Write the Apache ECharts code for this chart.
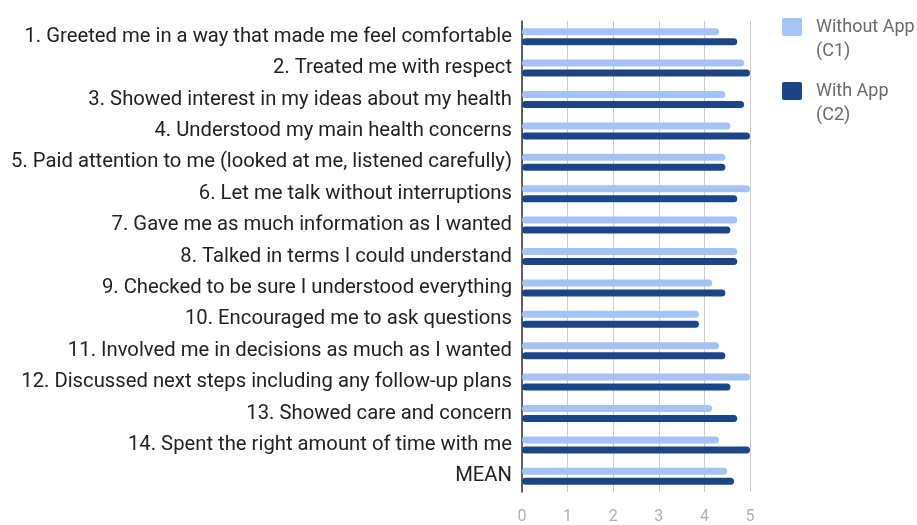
<!DOCTYPE html>
<html><head><meta charset="utf-8">
<script src="https://cdn.jsdelivr.net/npm/echarts@6/dist/echarts.min.js"></script>
<style>html,body{margin:0;padding:0;background:#fff}#c{width:917px;height:525px}</style>
</head><body><div id="c"></div>
<script>
const categories = [
  "1. Greeted me in a way that made me feel comfortable",
  "2. Treated me with respect",
  "3. Showed interest in my ideas about my health",
  "4. Understood my main health concerns",
  "5. Paid attention to me (looked at me, listened carefully)",
  "6. Let me talk without interruptions",
  "7. Gave me as much information as I wanted",
  "8. Talked in terms I could understand",
  "9. Checked to be sure I understood everything",
  "10. Encouraged me to ask questions",
  "11. Involved me in decisions as much as I wanted",
  "12. Discussed next steps including any follow-up plans",
  "13. Showed care and concern",
  "14. Spent the right amount of time with me",
  "MEAN"
];
const withoutApp = [4.32, 4.87, 4.46, 4.57, 4.46, 5.0, 4.72, 4.72, 4.17, 3.88, 4.32, 5.0, 4.17, 4.32, 4.5];
const withApp    = [4.72, 5.0, 4.87, 5.0, 4.46, 4.72, 4.57, 4.72, 4.46, 3.88, 4.46, 4.57, 4.72, 5.0, 4.65];
const xTicks = [0, 1, 2, 3, 4, 5];

// legend icon: 20x18 rounded square in the top-left of a 29x42 box
const legendIcon = 'path://M2,0H18Q20,0 20,2V16Q20,18 18,18H2Q0,18 0,16V2Q0,0 2,0Z M29,42';

const chart = echarts.init(document.getElementById('c'));
chart.setOption({
  animation: false,
  textStyle: { fontFamily: 'Roboto' },
  grid: { left: 522, right: 167, top: 21, bottom: 29, containLabel: false },
  legend: {
    orient: 'vertical', left: 782, top: 15, padding: 0,
    itemWidth: 29, itemHeight: 42, itemGap: 16,
    icon: legendIcon,
    data: ['Without App (C1)', 'With App (C2)'],
    formatter: function (n) { return n.replace(' (', '\n('); },
    textStyle: { color: '#6a6a6a', fontSize: 18, lineHeight: 24, fontFamily: 'Roboto' }
  },
  xAxis: {
    type: 'value', min: xTicks[0], max: xTicks[xTicks.length - 1], interval: 1,
    axisLine: { show: false }, axisTick: { show: false },
    splitLine: { lineStyle: { color: '#cccccc', width: 1 } },
    axisLabel: { color: '#b0b0b0', fontSize: 16, margin: 17 }
  },
  yAxis: {
    type: 'category', data: categories, inverse: true,
    axisLine: { show: true, lineStyle: { color: '#333', width: 1.5 } },
    axisTick: { show: false },
    axisLabel: { color: '#222', fontSize: 20.25, margin: 10 }
  },
  series: [
    { name: 'Without App (C1)', type: 'bar', data: withoutApp, barWidth: 7, barGap: '43%',
      itemStyle: { color: '#a4c2f4', borderRadius: 3.5 } },
    { name: 'With App (C2)', type: 'bar', data: withApp, barWidth: 7,
      itemStyle: { color: '#1c4587', borderRadius: 3.5 } }
  ]
});
</script></body></html>
